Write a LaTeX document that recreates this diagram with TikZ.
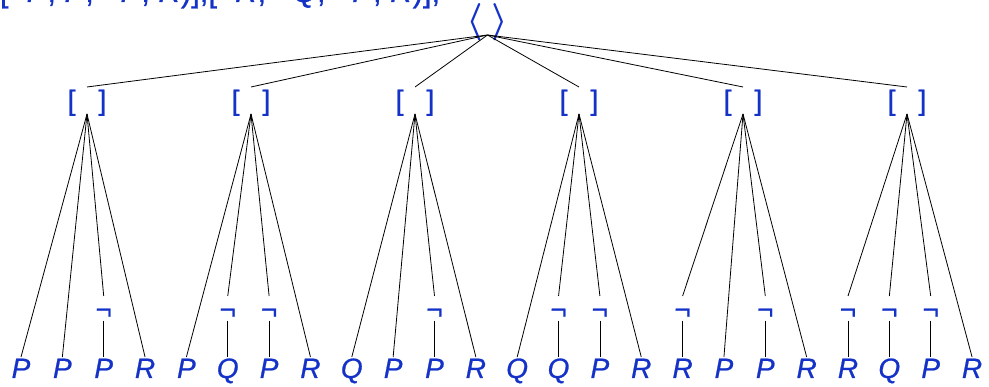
\documentclass[tikz,border=0pt]{standalone}
\usepackage{graphicx}
\usepackage{fontspec}
\setmainfont{Liberation Sans}[FakeBold=0.8]
\definecolor{nodeblue}{RGB}{20,50,200}
\begin{document}
\begin{tikzpicture}[x=1pt,y=-1pt,
  lbl/.style={inner sep=0pt, outer sep=0pt, text=nodeblue, font=\fontsize{28}{30}\selectfont, anchor=base},
  leaf/.style={lbl, text height=21pt, text depth=0pt, font=\fontsize{28}{30}\selectfont\itshape},
  negn/.style={lbl, text height=23pt, text depth=2pt},
  brk/.style={lbl, text height=23pt, text depth=4pt},
  rootn/.style={lbl, text height=27pt, text depth=3.7pt, font=\fontsize{24}{26}\selectfont},
  conn/.style={line width=0.8pt, black}]
\useasboundingbox (0,0) rectangle (989,387);
\node[lbl, anchor=base west, font=\fontsize{31}{33}\selectfont] (src) at (0,2)
  {[¬\textit{P}, \textit{P}, ¬\textit{P}, \textit{R})],[¬\textit{R}, ¬\textit{Q}, ¬\textit{P}, \textit{R})],};
\node[rootn] (root) at (487.5,31.3) {\scalebox{1.5}{\boldmath$\langle\hspace{6pt}\rangle$}};
\foreach \j in {0,...,5}{
  \pgfmathsetmacro\bx{87+164*\j}
  \node[brk] (b\j) at (\bx,110) {[\hspace{23pt}]};
  \draw[conn] (root.south) -- (b\j.north);
}
\foreach [count=\i from 0] \t/\ng in {P/0,P/0,P/1,R/0, P/0,Q/1,P/1,R/0, Q/0,P/0,P/1,R/0, Q/0,Q/1,P/1,R/0, R/1,P/0,P/1,R/0, R/1,Q/1,P/1,R/0}{
  \pgfmathsetmacro\lx{21+41.35*\i}
  \pgfmathtruncatemacro\g{int(\i/4)}
  \node[leaf] (l\i) at (\lx,378) {\t};
  \ifnum\ng=1
    \node[negn] (n\i) at (\lx,319) {¬};
    \draw[conn] (b\g.south) -- (n\i.north);
    \draw[conn] (n\i.south) -- (l\i.north);
  \else
    \draw[conn] (b\g.south) -- (l\i.north);
  \fi
}
\end{tikzpicture}
\end{document}
